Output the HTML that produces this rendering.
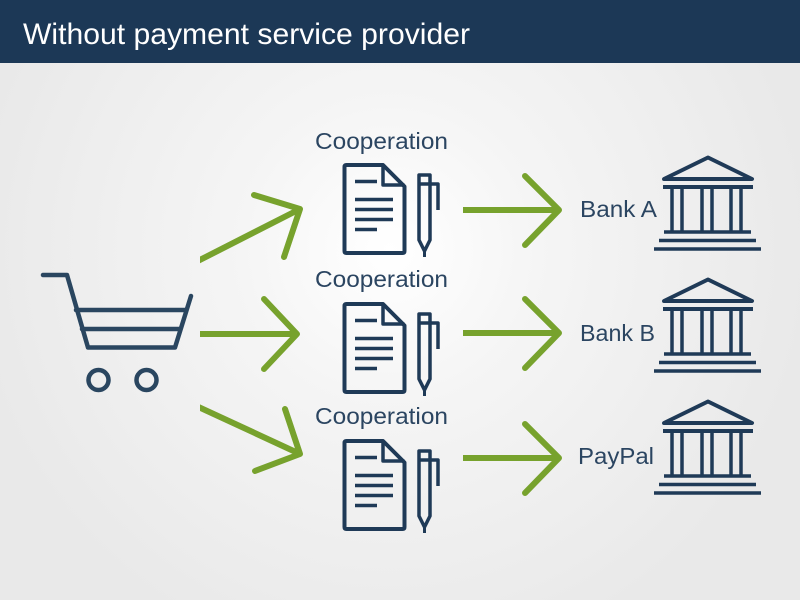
<!DOCTYPE html>
<html><head><meta charset="utf-8"><style>
html,body{margin:0;padding:0;width:800px;height:600px;overflow:hidden;background:#ececec;}
svg{display:block;}
text{font-family:"Liberation Sans",Arial,sans-serif;}
</style></head><body>
<svg width="800" height="600" viewBox="0 0 800 600" xmlns="http://www.w3.org/2000/svg">
<defs>
<radialGradient id="bg" cx="390" cy="250" r="420" gradientUnits="userSpaceOnUse">
<stop offset="0" stop-color="#ffffff"/>
<stop offset="0.35" stop-color="#f5f5f5"/>
<stop offset="1" stop-color="#e9e9e9"/>
</radialGradient>
<clipPath id="lc"><rect x="200" y="0" width="600" height="600"/></clipPath>
<g id="doc" fill="none" stroke="#1f3a57" stroke-linejoin="round">
<path d="M346.5,165 L383,165 L404.5,186.5 L404.5,251 Q404.5,253 402.5,253 L346.5,253 Q344.5,253 344.5,251 L344.5,167 Q344.5,165 346.5,165 Z" stroke-width="4"/>
<path d="M383,165 L383,185 L404.5,185" stroke-width="3.5"/>
<g stroke-width="3.5">
<line x1="355" y1="181.5" x2="377" y2="181.5"/>
<line x1="355" y1="199.5" x2="393" y2="199.5"/>
<line x1="355" y1="209.5" x2="393" y2="209.5"/>
<line x1="355" y1="219.5" x2="393" y2="219.5"/>
<line x1="355" y1="229.5" x2="377" y2="229.5"/>
</g>
<path d="M419,240 L419,175 L430,175 L430,240 L424.5,251 Z" stroke-width="3.5"/>
<line x1="424.5" y1="251" x2="424.5" y2="257" stroke-width="3"/>
<path d="M419,184 L438,184 L438,210" stroke-width="3.5"/>
</g>
<g id="bank" fill="none" stroke="#1f3a57">
<path d="M664,179 L708,157.5 L752,179 Z" stroke-width="4" stroke-linejoin="round"/>
<line x1="663" y1="187" x2="753" y2="187" stroke-width="4"/>
<g stroke-width="3.5">
<line x1="672" y1="187" x2="672" y2="232"/>
<line x1="682" y1="187" x2="682" y2="232"/>
<line x1="702" y1="187" x2="702" y2="232"/>
<line x1="712" y1="187" x2="712" y2="232"/>
<line x1="731" y1="187" x2="731" y2="232"/>
<line x1="741" y1="187" x2="741" y2="232"/>
<line x1="664" y1="232" x2="751" y2="232"/>
<line x1="659" y1="240.5" x2="756" y2="240.5"/>
<line x1="654" y1="249" x2="761" y2="249"/>
</g>
</g>
<g id="rarrow" fill="none" stroke="#77a22d" stroke-width="6">
<line x1="463" y1="210" x2="558" y2="210"/>
<path d="M525,176 L559,210 L525,245" stroke-linecap="round" stroke-linejoin="round"/>
</g>
</defs>

<rect x="0" y="0" width="800" height="600" fill="url(#bg)"/>
<rect x="0" y="0" width="800" height="63" fill="#1c3856"/>
<text x="23" y="44" font-size="30" fill="#ffffff" textLength="447" lengthAdjust="spacingAndGlyphs">Without payment service provider</text>

<!-- cart -->
<g fill="none" stroke="#2a4660" stroke-width="4.5" stroke-linecap="round" stroke-linejoin="round">
<path d="M43,275 L67,275 L88,347.5 L175,347.5 L191,296"/>
<line x1="76" y1="310" x2="185" y2="310"/>
<line x1="82" y1="329" x2="179" y2="329"/>
<circle cx="98.5" cy="380" r="10"/>
<circle cx="146.5" cy="380" r="10"/>
</g>

<!-- left arrows -->
<g fill="none" stroke="#77a22d" stroke-width="6" stroke-linecap="round" stroke-linejoin="round">
<line x1="190" y1="265" x2="299" y2="209.5" clip-path="url(#lc)" stroke-linecap="butt"/>
<path d="M254,195 L300,209 L284,257"/>
<line x1="190" y1="334" x2="296" y2="334" clip-path="url(#lc)" stroke-linecap="butt"/>
<path d="M264,299 L297,334 L264,369"/>
<line x1="190" y1="403" x2="299" y2="453.5" clip-path="url(#lc)" stroke-linecap="butt"/>
<path d="M285,409 L300,454 L255,471"/>
</g>

<!-- docs -->
<use href="#doc"/>
<use href="#doc" transform="translate(0,139)"/>
<use href="#doc" transform="translate(0,276)"/>

<g font-size="23" fill="#2b4561">
<text x="315" y="149" textLength="133" lengthAdjust="spacingAndGlyphs">Cooperation</text>
<text x="315" y="287" textLength="133" lengthAdjust="spacingAndGlyphs">Cooperation</text>
<text x="315" y="424" textLength="133" lengthAdjust="spacingAndGlyphs">Cooperation</text>
</g>

<!-- right arrows -->
<use href="#rarrow"/>
<use href="#rarrow" transform="translate(0,123)"/>
<use href="#rarrow" transform="translate(0,248)"/>

<g font-size="23" fill="#2b4561">
<text x="580" y="217" textLength="77" lengthAdjust="spacingAndGlyphs">Bank A</text>
<text x="580" y="341" textLength="75" lengthAdjust="spacingAndGlyphs">Bank B</text>
<text x="578" y="464" textLength="76" lengthAdjust="spacingAndGlyphs">PayPal</text>
</g>

<!-- banks -->
<use href="#bank"/>
<use href="#bank" transform="translate(0,122)"/>
<use href="#bank" transform="translate(0,244)"/>
</svg>
</body></html>
